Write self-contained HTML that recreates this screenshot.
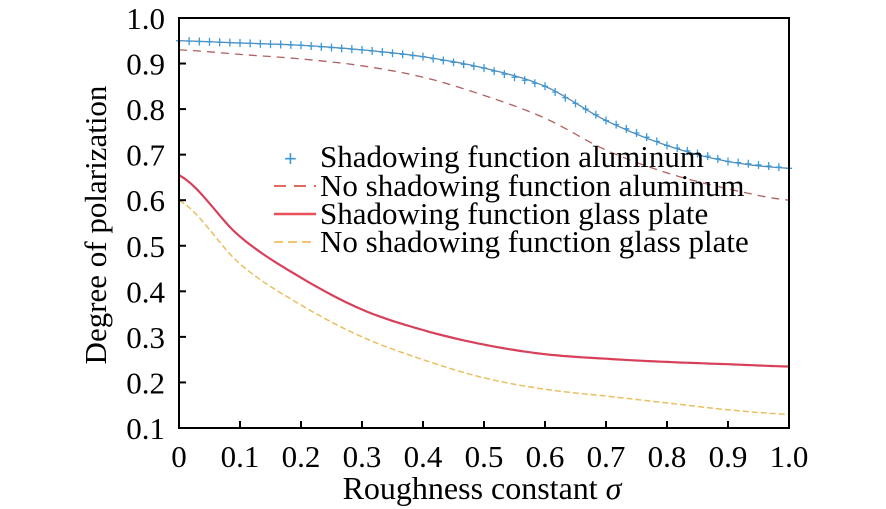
<!DOCTYPE html>
<html><head><meta charset="utf-8"><style>
body{margin:0;background:#fff;}
svg{display:block;}
</style></head><body>
<svg id="s" width="886" height="509" viewBox="0 0 886 509" xmlns="http://www.w3.org/2000/svg" font-family="'Liberation Serif', 'Times New Roman', serif">
<g id="curves"></g>
<rect x="179" y="18" width="610" height="410" fill="none" stroke="#000" stroke-width="2"/>
<g id="ticks" stroke="#000" stroke-width="2"></g>
<g id="labels" font-size="31" font-family="'Liberation Serif', serif"></g>
<text x="482" y="499" font-size="32" text-anchor="middle" font-family="'Liberation Serif', serif">Roughness constant <tspan font-style="italic">σ</tspan></text>
<text transform="translate(106,225) rotate(-90)" font-size="31" text-anchor="middle" font-family="'Liberation Serif', serif">Degree of polarization</text>
<g font-size="31" font-family="'Liberation Serif', serif">
<text x="320" y="167">Shadowing function aluminum</text>
<text x="320" y="196">No shadowing function aluminum</text>
<text x="320" y="224">Shadowing function glass plate</text>
<text x="320" y="252">No shadowing function glass plate</text>
</g>
<text x="284" y="166" font-size="22" fill="#3a9ad9" font-family="'Liberation Sans', sans-serif">+</text>
<line x1="274" y1="186" x2="316" y2="186" stroke="#e06a5a" stroke-width="2" stroke-dasharray="12,8"/>
<line x1="274" y1="214" x2="316" y2="214" stroke="#e8505a" stroke-width="2.5"/>
<line x1="274" y1="242" x2="316" y2="242" stroke="#f0b040" stroke-width="1.5" stroke-dasharray="9,5"/>
</svg>
<script>
const X=v=>179+v*610, Y=v=>428-(v-0.1)*455.6;
const ns="http://www.w3.org/2000/svg";
function el(p,t,a,txt){const e=document.createElementNS(ns,t);for(const k in a)e.setAttribute(k,a[k]);if(txt!==undefined)e.textContent=txt;document.getElementById(p).appendChild(e);return e;}
for(let i=0;i<=10;i++){const x=X(i/10);if(i>0&&i<10)el("ticks","line",{x1:x,y1:428,x2:x,y2:421});
el("labels","text",{x:x,y:467,"text-anchor":"middle"},i==0?"0":(i==10?"1.0":(i/10).toFixed(1)));}
for(let i=1;i<=10;i++){const v=i/10,y=Y(v);if(i>1&&i<10)el("ticks","line",{x1:179,y1:y,x2:186,y2:y});
el("labels","text",{x:165,y:y+11,"text-anchor":"end"},v.toFixed(1));}
const blue=[0.95,0.945,0.94,0.93,0.915,0.89,0.85,0.775,0.72,0.685,0.67];
const redd=[0.93,0.92,0.91,0.895,0.87,0.83,0.78,0.71,0.66,0.625,0.60];
const reds=[0.655,0.52,0.43,0.36,0.315,0.283,0.262,0.252,0.245,0.24,0.235];
const orn=[0.60,0.46,0.37,0.30,0.25,0.21,0.185,0.17,0.155,0.14,0.13];
function path(ys){let d="";for(let i=0;i<=100;i++){const t=i/100,k=Math.min(9,Math.floor(t*10)),f=t*10-k;
const p0=ys[Math.max(0,k-1)],p1=ys[k],p2=ys[k+1],p3=ys[Math.min(10,k+2)];
const v=0.5*((2*p1)+(-p0+p2)*f+(2*p0-5*p1+4*p2-p3)*f*f+(-p0+3*p1-3*p2+p3)*f*f*f);
d+=(i?"L":"M")+X(t).toFixed(1)+" "+Y(v).toFixed(1);}return d;}
el("curves","path",{d:path(orn),fill:"none",stroke:"#e8c060","stroke-width":1.5,"stroke-dasharray":"6,3"});
el("curves","path",{d:path(reds),fill:"none",stroke:"#d8405a","stroke-width":2.2});
el("curves","path",{d:path(redd),fill:"none",stroke:"#b06060","stroke-width":1.3,"stroke-dasharray":"8,6"});
el("curves","path",{d:path(blue),fill:"none",stroke:"#5a8ab0","stroke-width":1.3});
for(let i=0;i<=60;i++){const t=i/60,k=Math.min(9,Math.floor(t*10)),f=t*10-k;const v=blue[k]+(blue[k+1]-blue[k])*f;const x=X(t),y=Y(v);
el("curves","path",{d:`M${x-3} ${y}H${x+3}M${x} ${y-4}V${y+4}`,stroke:"#3a9ad9","stroke-width":1.3});}
</script>
</body></html>
